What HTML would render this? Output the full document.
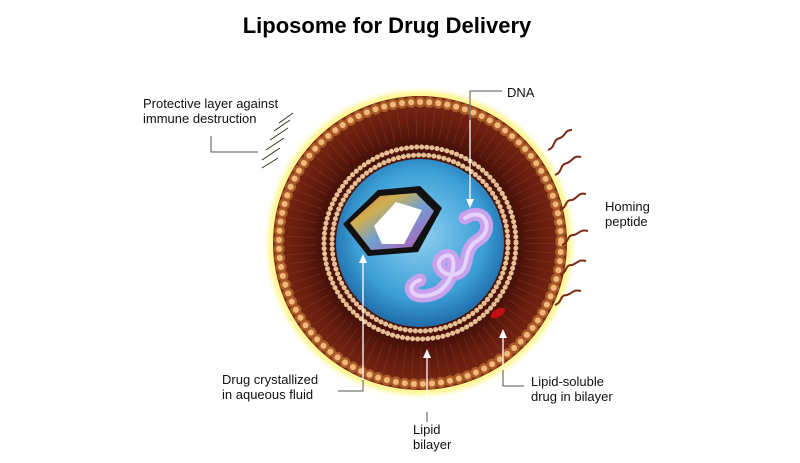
<!DOCTYPE html>
<html><head><style>
body{margin:0;background:#fff;width:800px;height:458px;overflow:hidden;font-family:"Liberation Sans",Arial,sans-serif}
</style></head><body>
<svg width="800" height="458" viewBox="0 0 800 458" xmlns="http://www.w3.org/2000/svg">
<defs>
<radialGradient id="glow" cx="0.5" cy="0.5" r="0.5">
<stop offset="0.88" stop-color="#fff27a"/><stop offset="0.95" stop-color="#fff7a0"/><stop offset="1" stop-color="#ffffff" stop-opacity="0"/>
</radialGradient>
<radialGradient id="ring" cx="0.5" cy="0.5" r="0.5">
<stop offset="0.6" stop-color="#3a0c06"/><stop offset="0.85" stop-color="#6a1e10"/><stop offset="1" stop-color="#7a2a14"/>
</radialGradient>
<radialGradient id="blue" cx="0.5" cy="0.45" r="0.55">
<stop offset="0" stop-color="#8fd0f2"/><stop offset="0.7" stop-color="#3c9fd6"/><stop offset="1" stop-color="#1f6aa8"/>
</radialGradient>
<linearGradient id="rb" x1="0" y1="0" x2="1" y2="1">
<stop offset="0" stop-color="#e07050"/><stop offset="0.3" stop-color="#d0b050"/><stop offset="0.55" stop-color="#70a0d0"/><stop offset="0.8" stop-color="#a070c0"/><stop offset="1" stop-color="#604040"/>
</linearGradient>
</defs>
<text x="387" y="33" text-anchor="middle" font-size="22" font-weight="bold" fill="#000">Liposome for Drug Delivery</text>
<circle cx="420" cy="243" r="158" fill="url(#glow)"/>
<circle cx="420" cy="243" r="147" fill="url(#ring)"/>
<circle cx="420" cy="243" r="141" fill="none" stroke="#a85a28" stroke-width="11" stroke-dasharray="0.1 9" stroke-linecap="round"/>
<circle cx="420" cy="243" r="141" fill="none" stroke="#f2b878" stroke-width="6" stroke-dasharray="0.1 9" stroke-linecap="round"/>
<circle cx="420" cy="243" r="120" fill="none" stroke="#8a3a1a" stroke-width="30" stroke-dasharray="1 7.5" opacity="0.5"/>
<circle cx="420" cy="243" r="98" fill="#4a140a"/>
<circle cx="420" cy="243" r="96" fill="none" stroke="#e6c094" stroke-width="5" stroke-dasharray="0.1 5" stroke-linecap="round"/>
<circle cx="420" cy="243" r="88" fill="none" stroke="#e6c094" stroke-width="5" stroke-dasharray="0.1 5" stroke-linecap="round"/>
<circle cx="420" cy="243" r="84" fill="url(#blue)"/>
<!-- crystal -->
<polygon points="343,224 378,190 420,186 442,208 418,252 368,256" fill="#111"/>
<polygon points="350,223 380,196 416,193 434,211 412,247 371,250" fill="url(#rb)"/>
<polygon points="374,226 396,202 422,210 404,244 382,244" fill="#fff"/>
<!-- DNA -->
<path d="M465,218 C485,205 495,230 478,240 C462,250 470,265 460,272 C445,282 430,262 445,256 C460,250 455,290 430,295 C410,300 405,285 420,280" fill="none" stroke="#c9a2ee" stroke-width="13" stroke-linecap="round"/>
<path d="M465,218 C485,205 495,230 478,240 C462,250 470,265 460,272 C445,282 430,262 445,256 C460,250 455,290 430,295 C410,300 405,285 420,280" fill="none" stroke="#e6d2fa" stroke-width="4" stroke-linecap="round"/>
<!-- lipid-soluble drug -->
<ellipse cx="498" cy="313" rx="8" ry="4" fill="#c01010" transform="rotate(-30 498 313)"/>
<!-- protective layer hairs -->
<g stroke="#332" stroke-width="1" fill="none">
<path d="M262,160 l18,-12"/><path d="M266,150 l18,-12"/><path d="M270,140 l18,-12"/><path d="M274,131 l16,-11"/><path d="M279,123 l14,-10"/><path d="M262,168 l16,-10"/>
</g>
<!-- homing peptides -->
<g stroke="#7a2a14" stroke-width="2" fill="none">
<path d="M548,150 c8,-3 4,-10 12,-12 c6,-2 4,-8 12,-8"/>
<path d="M555,175 c8,-3 4,-10 12,-12 c6,-2 6,-8 14,-6"/>
<path d="M560,210 c8,-3 4,-10 12,-10 c6,-2 6,-8 14,-6"/>
<path d="M562,245 c8,-3 4,-10 12,-10 c6,-2 6,-6 14,-4"/>
<path d="M560,275 c8,-3 4,-10 12,-10 c6,-2 6,-6 14,-4"/>
<path d="M555,305 c8,-3 4,-10 12,-10 c6,-2 6,-6 14,-4"/>
</g>
<!-- labels -->
<g font-size="13" fill="#111">
<text x="143" y="108">Protective layer against</text>
<text x="143" y="123">immune destruction</text>
<text x="507" y="97">DNA</text>
<text x="605" y="211">Homing</text>
<text x="605" y="226">peptide</text>
<text x="222" y="384">Drug crystallized</text>
<text x="222" y="399">in aqueous fluid</text>
<text x="413" y="434">Lipid</text>
<text x="413" y="449">bilayer</text>
<text x="531" y="386">Lipid-soluble</text>
<text x="531" y="401">drug in bilayer</text>
</g>
<g stroke="#fff" stroke-width="1.3" fill="none">
<path d="M470,205 V95"/><path d="M363,392 V258"/><path d="M427,418 V353"/><path d="M503,383 V333"/>
</g>
<g stroke="#555" stroke-width="1" fill="none">
<path d="M211,136 V152 H258"/><path d="M502,91 H470 V120"/><path d="M338,391 H363 V380"/><path d="M427,422 V412"/><path d="M524,386 H503 V370"/>
</g>
<g fill="#fff">
<path d="M470,208 l-4,-9 h8z"/><path d="M363,254 l-4,9 h8z"/><path d="M427,349 l-4,9 h8z"/><path d="M503,329 l-4,9 h8z"/>
</g>
</svg>
</body></html>
